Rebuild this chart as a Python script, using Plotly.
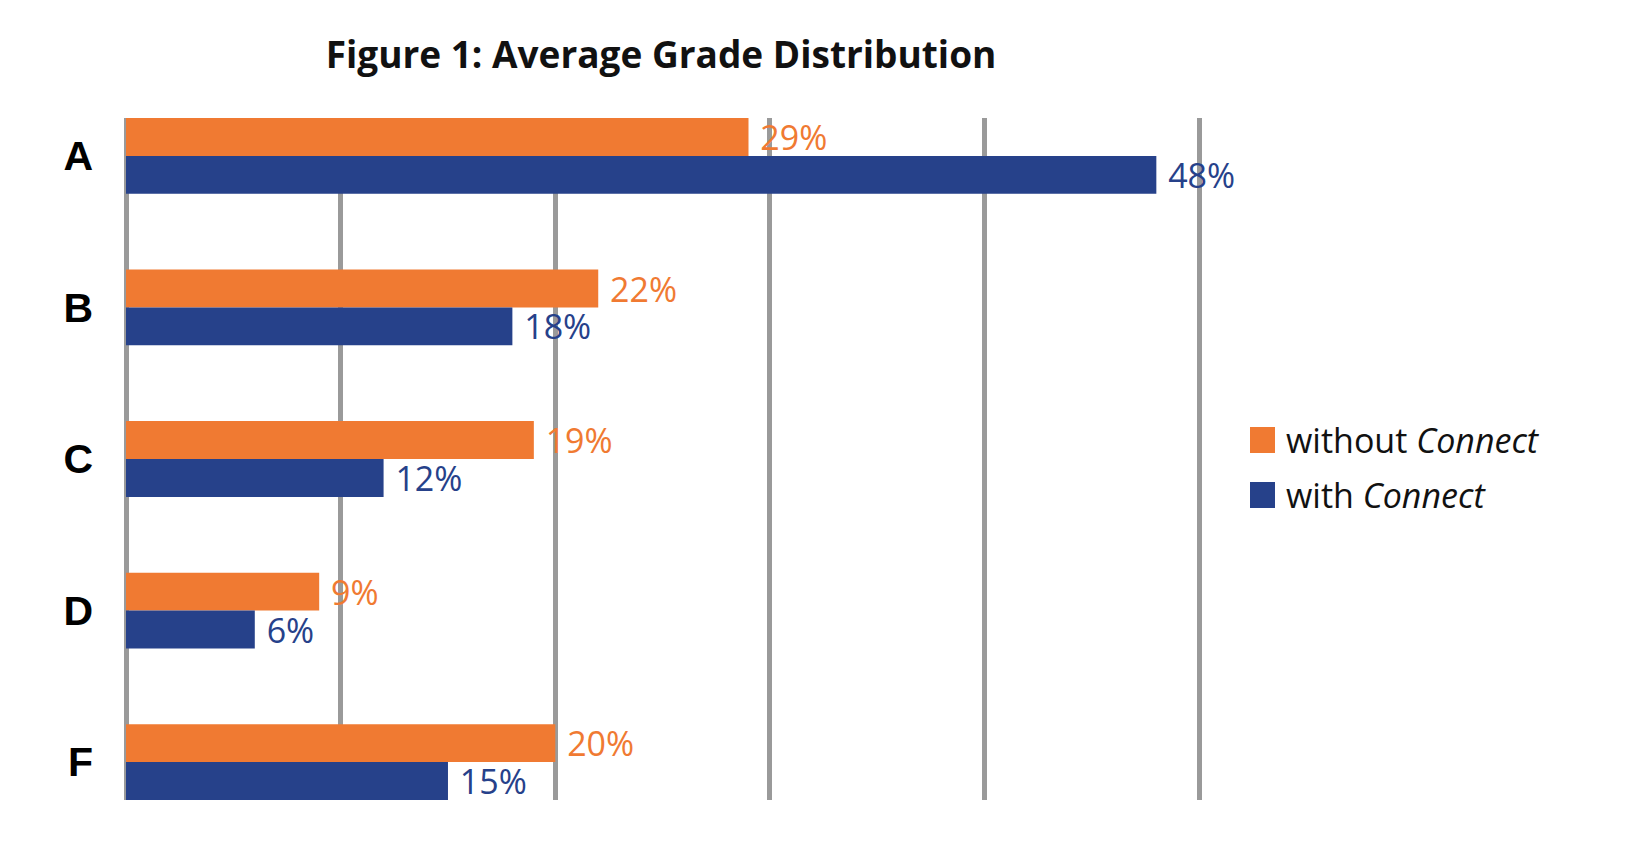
import plotly.graph_objects as go

grades = ["A", "B", "C", "D", "F"]
without_connect = [29, 22, 19, 9, 20]
with_connect = [48, 18, 12, 6, 15]
grid_ticks = [0, 10, 20, 30, 40, 50]

ORANGE = "rgb(240,122,50)"
BLUE = "rgb(38,65,138)"
GRID = "#9a9a9a"
W, H = 1640, 854
L, R, T, B = 118, 438, 110, 62
PW, PH = W - L - R, H - T - B

fig = go.Figure()
fig.add_trace(go.Bar(y=grades, x=without_connect, orientation="h", name="without Connect",
                     marker=dict(color=ORANGE, line=dict(width=0)),
                     text=[f" {v}%" for v in without_connect], textposition="outside",
                     constraintext="none",
                     textfont=dict(color=ORANGE, size=34, family="Open Sans"), cliponaxis=False))
fig.add_trace(go.Bar(y=grades, x=with_connect, orientation="h", name="with Connect",
                     marker=dict(color=BLUE, line=dict(width=0)),
                     text=[f" {v}%" for v in with_connect], textposition="outside",
                     constraintext="none",
                     textfont=dict(color=BLUE, size=34, family="Open Sans"), cliponaxis=False))

fig.update_layout(
    width=W, height=H,
    margin=dict(l=L, r=R, t=T, b=B),
    paper_bgcolor="white", plot_bgcolor="white",
    barmode="group", bargap=0.5, bargroupgap=0,
    showlegend=False,
    font=dict(family="Open Sans", color="#111"),
    title=dict(text="<b>Figure 1: Average Grade Distribution</b>", x=653 / W, xref="container",
               xanchor="center", y=1 - 47 / H, yref="container", yanchor="middle",
               font=dict(size=37, color="#111", family="Open Sans")),
)
fig.update_xaxes(range=[0, 50.5], tickvals=grid_ticks, showticklabels=False,
                 showgrid=True, gridcolor=GRID, gridwidth=5,
                 zeroline=True, zerolinecolor=GRID, zerolinewidth=5, showline=False)
fig.update_yaxes(range=[4.25, -0.25], autorange=False, showgrid=False, zeroline=False,
                 showline=False, ticklabelstandoff=32,
                 tickfont=dict(size=41, color="black", family="Liberation Sans"),
                 tickvals=grades, ticktext=[f"<b>{g}</b>" for g in grades])

# legend drawn by hand so the swatches can be large
legend_items = [("without <i>Connect</i>", ORANGE, 432), ("with <i>Connect</i>", BLUE, 487)]
for label, color, yc in legend_items:
    fig.add_shape(type="rect", xref="paper", yref="paper",
                  x0=(1242 - L) / PW, x1=(1267 - L) / PW,
                  y0=(H - B - (yc + 13)) / PH, y1=(H - B - (yc - 13)) / PH,
                  fillcolor=color, line=dict(width=0))
    fig.add_annotation(text=label, xref="paper", yref="paper",
                       x=(1276 - L) / PW, y=(H - B - yc) / PH,
                       xanchor="left", yanchor="middle", showarrow=False,
                       font=dict(size=34, color="#111", family="Open Sans"))

fig.write_html("out.html")
